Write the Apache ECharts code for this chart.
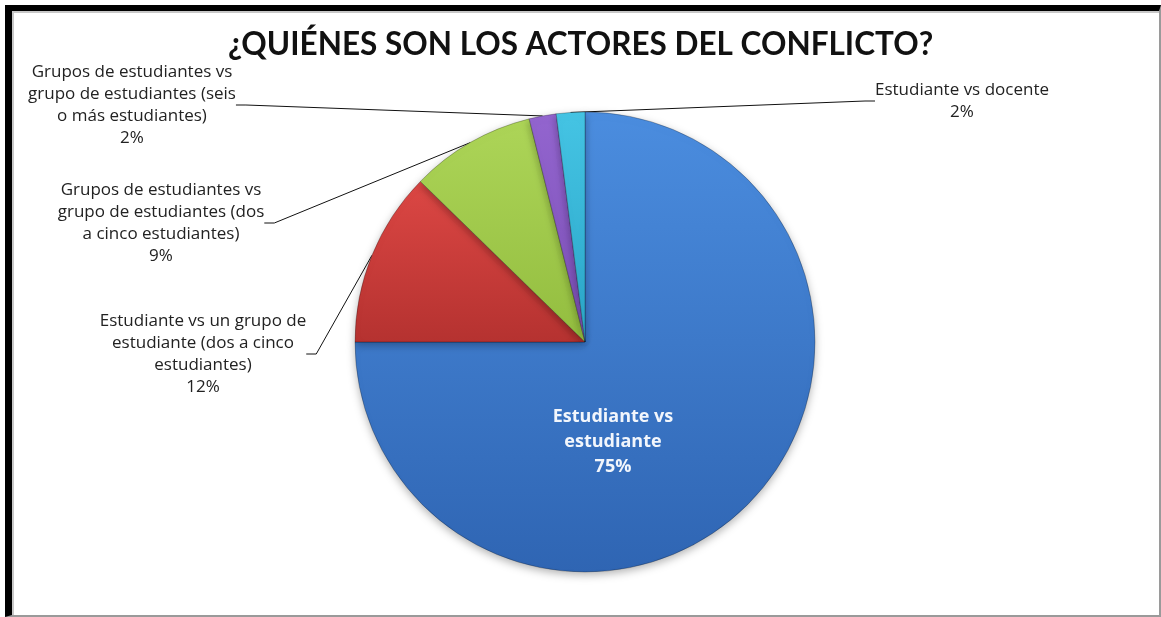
<!DOCTYPE html>
<html>
<head>
<meta charset="utf-8">
<script src="https://cdn.jsdelivr.net/npm/echarts@6/dist/echarts.min.js"></script>
<style>
  html, body { margin: 0; padding: 0; background: #fff; }
  #frame {
    position: absolute; left: 5px; top: 5px;
    width: 1147px; height: 604px;
    border-left: 7px solid #000; border-top: 6px solid #000;
    border-right: 2px solid #9a9a9a; border-bottom: 2px solid #9a9a9a;
    box-shadow: inset 2px 2px 0 #c8c8c8;
  }
  #chart { position: absolute; left: 0; top: 0; width: 1161px; height: 617px; }
</style>
</head>
<body>
<div id="frame"></div>
<div id="chart"></div>
<script>
var titulo = '¿QUIÉNES SON LOS ACTORES DEL CONFLICTO?';

var categorias = [
  'Estudiante vs estudiante',
  'Estudiante vs un grupo de estudiante (dos a cinco estudiantes)',
  'Grupos de estudiantes vs grupo de estudiantes (dos a cinco estudiantes)',
  'Grupos de estudiantes vs grupo de estudiantes (seis o más estudiantes)',
  'Estudiante vs docente'
];
// texto de la etiqueta tal como aparece (con saltos de linea)
var etiquetas = [
  'Estudiante vs\nestudiante',
  'Estudiante vs un grupo de\nestudiante (dos a cinco\nestudiantes)',
  'Grupos de estudiantes vs\ngrupo de estudiantes (dos\na cinco estudiantes)',
  'Grupos de estudiantes vs\ngrupo de estudiantes (seis\no más estudiantes)',
  'Estudiante vs docente'
];
var valores = [75, 12.3, 8.8, 1.9, 2.0];

var colores = [
  ['#4b8ddf', '#2f65b3'],
  ['#dc4744', '#b53230'],
  ['#add558', '#93bd3f'],
  ['#9365cf', '#7b4fb5'],
  ['#45c4e4', '#2aa6c8']
];

// centro de cada etiqueta
var posEtiquetas = [
  [613, 442],
  [203, 354],
  [161, 223],
  [132, 105],
  [962, 101]
];

var chart = echarts.init(document.getElementById('chart'));

var datos = valores.map(function (v, i) {
  var item = {
    value: v,
    name: categorias[i],
    itemStyle: {
      color: {
        type: 'linear', x: 0, y: 0, x2: 0, y2: 1,
        colorStops: [{ offset: 0, color: colores[i][0] }, { offset: 1, color: colores[i][1] }]
      }
    }
  };
  if (i === 0) {
    item.label = {
      position: 'inside',
      color: '#f2f6fc',
      fontWeight: 'bold',
      fontSize: 18,
      lineHeight: 25
    };
  }
  return item;
});

var option = {
  backgroundColor: 'transparent',
  animation: false,
  title: {
    text: titulo,
    left: 'center',
    top: 24,
    textStyle: {
      fontFamily: 'Lato',
      fontWeight: 'bold',
      fontSize: 31.5,
      color: '#111'
    }
  },
  series: [
    {
      type: 'pie',
      center: [585, 342],
      radius: 230,
      startAngle: 90,
      clockwise: true,
      percentPrecision: 0,
      data: datos,
      itemStyle: {
        borderColor: 'rgba(0,0,0,0.25)',
        borderWidth: 1,
        shadowBlur: 8,
        shadowOffsetY: 3,
        shadowColor: 'rgba(0,0,0,0.3)'
      },
      label: {
        show: true,
        position: 'outside',
        formatter: function (p) {
          return etiquetas[p.dataIndex] + '\n' + p.percent + '%';
        },
        fontFamily: 'Open Sans',
        fontSize: 17,
        lineHeight: 22,
        color: '#222',
        align: 'center'
      },
      labelLine: {
        show: true,
        length: 20,
        length2: 10,
        lineStyle: { color: '#111', width: 1 }
      },
      labelLayout: function (p) {
        var pos = posEtiquetas[p.dataIndex];
        return {
          x: pos[0],
          y: pos[1],
          align: 'center',
          verticalAlign: 'middle'
        };
      }
    }
  ]
};

chart.setOption(option);
</script>
</body>
</html>
